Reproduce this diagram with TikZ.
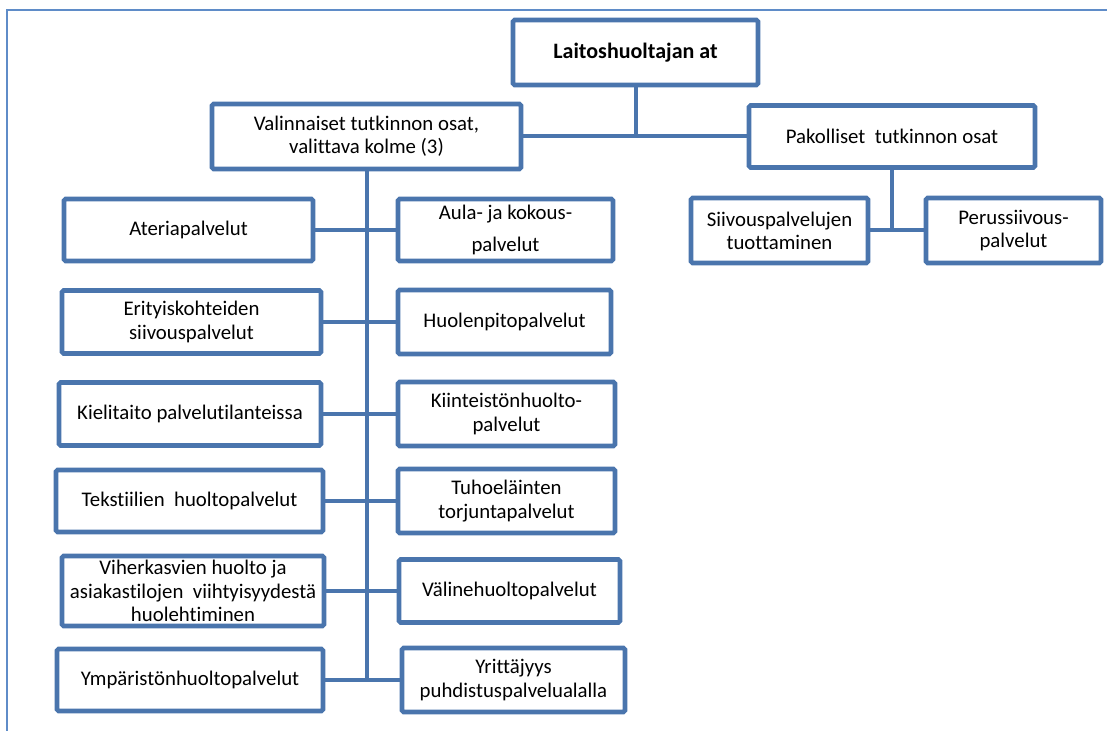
\documentclass[tikz,border=0pt]{standalone}
\usepackage{fontspec}
\setmainfont{Carlito}[Ligatures={NoCommon}]
\definecolor{orgblue}{RGB}{74,117,173}
\definecolor{frameblue}{RGB}{95,140,200}
\begin{document}
\begin{tikzpicture}[x=0.5pt,y=-0.5pt,
    box/.style 2 args={draw=orgblue,line width=2.3pt,fill=white,rounded corners=0.8pt,
      align=center,inner sep=1pt,minimum width=#1*0.5pt,minimum height=#2*0.5pt,
      font=\fontsize{10.4}{11.6}\selectfont},
    link/.style={draw=orgblue,line width=2pt}]
            \useasboundingbox (0,0) rectangle (1107,731);
            \draw[frameblue,line width=0.8pt] (7,731) -- (7,10) -- (1107,10);
            % top levels
            \node[box={245}{65}] (top) at (635.5,52.5) {\fontsize{11}{12}\selectfont\textbf{Laitoshuoltajan at}};
            \node[box={309}{65}] (val) at (366.5,136.5) {Valinnaiset tutkinnon osat,\\valittava kolme (3)};
            \node[box={286}{62}] (pak) at (892,136.5) {Pakolliset\ \ tutkinnon osat};
            \node[box={177}{65}] (siiv) at (779.5,230.5) {Siivouspalvelujen\\tuottaminen};
            \node[box={175}{65}] (perus) at (1013.5,230.5) {Perussiivous-\\palvelut};
            % left column
            \node[box={249}{62}] (ater) at (188.5,230) {Ateriapalvelut};
            \node[box={259}{63}] (erit) at (191.5,322) {Erityiskohteiden\\siivouspalvelut};
            \node[box={262}{63}] (kiel) at (190,414) {Kielitaito palvelutilanteissa};
            \node[box={267}{62}] (teks) at (189.5,501) {Tekstiilien\ \ huoltopalvelut};
            \node[box={262}{70}] (vih) at (193,591) {Viherkasvien huolto ja\\asiakastilojen\ \ viihtyisyydestä\\huolehtiminen};
            \node[box={266}{62}] (ymp) at (190,680) {Ympäristönhuoltopalvelut};
            % right column
            \node[box={215}{62}] (aula) at (505.5,230) {Aula- ja kokous-\\[4.5pt]palvelut};
            \node[box={213}{64}] (huol) at (504.5,322) {Huolenpitopalvelut};
            \node[box={217}{64}] (kiin) at (506.5,414) {Kiinteistönhuolto-\\palvelut};
            \node[box={217}{64}] (tuho) at (506.5,501) {Tuhoeläinten\\torjuntapalvelut};
            \node[box={221}{63}] (vali) at (509.5,591) {Välinehuoltopalvelut};
            \node[box={223}{64}] (yrit) at (513.5,680) {Yrittäjyys\\puhdistuspalvelualalla};
            % connectors
            \draw[link] (top.south) -- (top.south |- val.east);
            \draw[link] (val.east) -- (pak.west);
            \draw[link] (pak.south) -- (pak.south |- siiv.east);
            \draw[link] (siiv.east) -- (perus.west);
            \draw[link] (val.south) -- (val.south |- ymp.east);
            \draw[link] (ater.east) -- (aula.west);
            \draw[link] (erit.east) -- (huol.west);
            \draw[link] (kiel.east) -- (kiin.west);
            \draw[link] (teks.east) -- (tuho.west);
            \draw[link] (vih.east) -- (vali.west);
            \draw[link] (ymp.east) -- (yrit.west);
\end{tikzpicture}
\end{document}
